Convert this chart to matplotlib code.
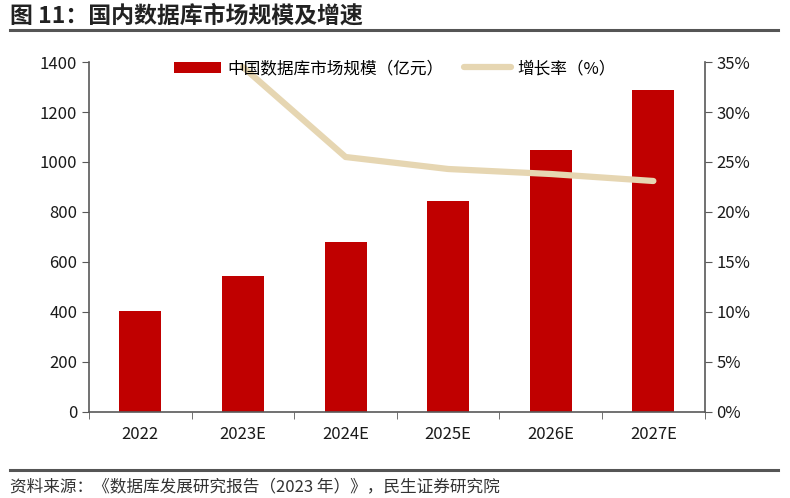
import matplotlib.pyplot as plt
from matplotlib.ticker import FuncFormatter

plt.rcParams['font.family'] = ['Noto Sans CJK SC', 'DejaVu Sans']

# 数据
years = ['2022', '2023E', '2024E', '2025E', '2026E', '2027E']
market_size = [403, 542, 680, 845, 1046, 1287]
growth_years = ['2023E', '2024E', '2025E', '2026E', '2027E']
growth_rate = [34.5, 25.5, 24.3, 23.8, 23.1]

bar_color = '#C00000'
line_color = '#E6D6B2'
axis_color = '#595959'

fig = plt.figure(figsize=(7.9, 4.98), dpi=100)
ax = fig.add_axes([0.1127, 0.1727, 0.7793, 0.7028])

x = list(range(len(years)))
bars = ax.bar(x, market_size, width=0.41, color=bar_color, label='中国数据库市场规模（亿元）', zorder=2)
ax.set_ylim(0, 1400)
ax.set_yticks(range(0, 1401, 200))
ax.set_xlim(-0.5, len(years) - 0.5)
ax.set_xticks(x)
ax.set_xticklabels(years)
ax.set_xticks([i - 0.5 for i in range(len(years) + 1)], minor=True)
ax.tick_params(axis='x', which='major', length=0, pad=10)
ax.tick_params(axis='x', which='minor', length=5, direction='out', color=axis_color)
ax.tick_params(axis='y', length=5, direction='out', color=axis_color)
ax.tick_params(labelsize=12, labelcolor='#1a1a1a')

ax2 = ax.twinx()
gx = [years.index(y) for y in growth_years]
line, = ax2.plot(gx, growth_rate, color=line_color, lw=4.5, solid_capstyle='round', label='增长率（%）', zorder=3)
ax2.set_ylim(0, 35)
ax2.set_yticks(range(0, 36, 5))
ax2.yaxis.set_major_formatter(FuncFormatter(lambda v, p: f'{int(v)}%'))
ax2.tick_params(axis='y', length=5, direction='out', color=axis_color, labelsize=12, labelcolor='#1a1a1a')

for a in (ax, ax2):
    a.spines['top'].set_visible(False)
    for s in ('left', 'right', 'bottom'):
        a.spines[s].set_color(axis_color)
        a.spines[s].set_linewidth(1.2)
ax.spines['right'].set_visible(False)
ax2.spines['left'].set_visible(False)
ax2.spines['bottom'].set_visible(False)

fig.legend([bars, line], ['中国数据库市场规模（亿元）', '增长率（%）'],
           loc='center', bbox_to_anchor=(0.5, 0.862), ncol=2, frameon=False,
           fontsize=12, handlelength=2.8, handleheight=0.7, columnspacing=1.2,
           handletextpad=0.4)

# 标题与来源
fig.text(0.013, 0.968, '图 11：国内数据库市场规模及增速', fontsize=16.5, fontweight='bold',
         color='#222222', va='center')
fig.add_artist(plt.Line2D([0.013, 0.985], [0.94, 0.94], color='#555555', lw=2.2))
fig.add_artist(plt.Line2D([0.013, 0.985], [0.057, 0.057], color='#555555', lw=2.2))
fig.text(0.013, 0.022, '资料来源：《数据库发展研究报告（2023 年）》，民生证券研究院',
         fontsize=12, color='#333333', va='center')

fig.savefig('out.png', dpi=100)
